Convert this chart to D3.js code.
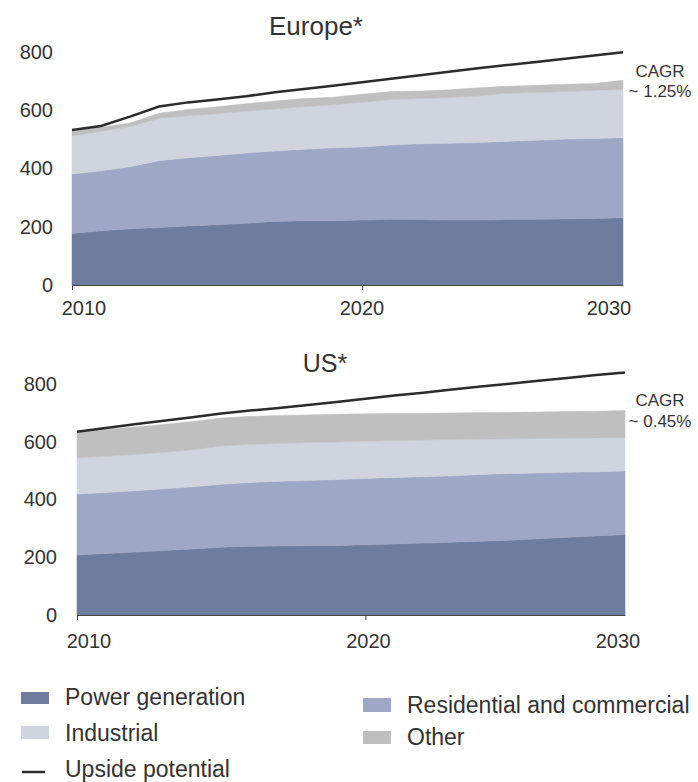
<!DOCTYPE html>
<html><head><meta charset="utf-8">
<script src="https://cdn.jsdelivr.net/npm/d3@7/dist/d3.min.js"></script>
<style>
body{margin:0;background:#fff}
svg text{font-family:"Liberation Sans",Arial,Helvetica,sans-serif;fill:#333}
</style>
</head><body>
<svg id="chart" width="698" height="782"></svg>
<script>
// ---------- data ----------
const years = [2010,2011,2012,2013,2014,2015,2016,2017,2018,2019,2020,2021,2022,2023,2024,2025,2026,2027,2028,2029];
const xTickValues = [2010, 2020, 2030];
const xTickLabels = ["2010", "2020", "2030"];
const yTicks = [0, 200, 400, 600, 800];

const seriesKeys = ["power", "residential", "industrial", "other"];
const seriesLabels = ["Power generation", "Residential and commercial", "Industrial", "Other"];
const seriesColors = ["#6e7c9d", "#9ea7c5", "#d0d4df", "#bfbfbf"];
const lineLabel = "Upside potential";

// Europe*
const europePower       = [177,186,193,197,203,207,212,218,221,221,223,226,225,223,223,225,226,227,228,231];
const europeResidential = [204,206,213,230,234,238,241,242,245,250,251,255,260,264,266,268,271,274,275,275];
const europeIndustrial  = [131,135,138,145,144,143,144,144,146,148,153,156,155,157,160,165,164,163,165,166];
const europeOther       = [18,15,12,18,22,24,25,28,28,26,28,27,26,26,28,24,25,25,24,31];
const europeUpside      = [532,546,578,613,627,637,648,662,673,684,696,708,720,732,744,755,766,777,788,799];

// US*
const usPower       = [208,213,218,223,229,235,238,239,240,241,243,246,249,252,255,259,264,269,274,279];
const usResidential = [211,211,212,214,215,218,221,224,226,228,230,230,230,230,232,231,228,225,222,220];
const usIndustrial  = [126,126,126,126,128,132,132,131,131,130,129,128,127,126,122,120,119,118,117,115];
const usOther       = [90,93,95,97,98,97,97,97,96,96,95,94,93,92,92,92,92,93,93,94];
const usUpside      = [635,648,661,673,685,698,708,717,727,738,749,760,770,781,791,801,811,821,831,840];

const panels = [
  {title:"Europe*", cagr:["CAGR","~ 1.25%"],
   series:[europePower, europeResidential, europeIndustrial, europeOther], upside: europeUpside,
   left:72, right:623, yBottom:285, yTop:52, titleX:316, titleY:35, titleSize:26,
   labelRight:53, xLabelY:315, xLabelDx:[12,0,-14], cagrX:660, cagrY:[77,97]},
  {title:"US*", cagr:["CAGR","~ 0.45%"],
   series:[usPower, usResidential, usIndustrial, usOther], upside: usUpside,
   left:77, right:625, yBottom:615, yTop:384, titleX:325, titleY:372, titleSize:25,
   labelRight:57, xLabelY:648, xLabelDx:[12,3,-7], cagrX:660, cagrY:[406,427]}
];

const svg = d3.select("#chart");

panels.forEach(p => {
  const rows = years.map((yr, i) => {
    const r = {year: yr};
    seriesKeys.forEach((k, j) => r[k] = p.series[j][i]);
    return r;
  });
  const x = d3.scaleLinear().domain([years[0], years[years.length-1]]).range([p.left, p.right]);
  const y = d3.scaleLinear().domain([0, 800]).range([p.yBottom, p.yTop]);
  const stack = d3.stack().keys(seriesKeys)(rows);
  const area = d3.area().x(d => x(d.data.year)).y0(d => y(d[0])).y1(d => y(d[1]));
  const g = svg.append("g");

  g.selectAll("path.layer").data(stack).join("path")
    .attr("class", "layer")
    .attr("d", area)
    .attr("fill", (d, i) => seriesColors[i])
    .attr("stroke", (d, i) => seriesColors[i])
    .attr("stroke-width", 0.5);

  const line = d3.line().x((d, i) => x(years[i])).y(d => y(d));
  g.append("path").attr("d", line(p.upside))
    .attr("fill", "none").attr("stroke", "#2b2b2b").attr("stroke-width", 2.5);

  // x axis (line + ticks)
  const xAxis = g.append("g").attr("transform", `translate(0,${p.yBottom})`)
    .call(d3.axisBottom(x).tickValues(xTickValues.filter(v => v <= years[years.length-1]))
      .tickSize(5).tickSizeOuter(0).tickFormat(""));
  xAxis.select(".domain").attr("stroke", "#444");
  xAxis.selectAll(".tick line").attr("stroke", "#444");

  // x tick labels
  g.selectAll("text.xl").data(xTickValues).join("text")
    .attr("class", "xl")
    .attr("x", (d, i) => (i === 2 ? p.right : x(d)) + p.xLabelDx[i])
    .attr("y", p.xLabelY)
    .attr("text-anchor", "middle")
    .attr("font-size", 20)
    .text((d, i) => xTickLabels[i]);

  // y axis labels
  const yAxis = g.append("g").attr("transform", `translate(${p.left},0)`)
    .call(d3.axisLeft(y).tickValues(yTicks).tickSize(0).tickPadding(p.left - p.labelRight));
  yAxis.select(".domain").remove();
  yAxis.selectAll("text").attr("font-size", 20).style("font-family", '"Liberation Sans",Arial,sans-serif').attr("fill", "#333");

  // title
  g.append("text").attr("x", p.titleX).attr("y", p.titleY)
    .attr("text-anchor", "middle").attr("font-size", p.titleSize).text(p.title);

  // CAGR
  p.cagr.forEach((t, i) => {
    g.append("text").attr("x", p.cagrX).attr("y", p.cagrY[i])
      .attr("text-anchor", "middle").attr("font-size", 17).text(t);
  });
});

// legend
const legendItems = [
  {type:"rect", idx:0, x:21, y:692, h:12, tx:65, ty:705},
  {type:"rect", idx:2, x:21, y:726, h:13, tx:65, ty:741},
  {type:"line", x:22, y:772, tx:65, ty:777},
  {type:"rect", idx:1, x:363, y:698, h:14, tx:407, ty:713},
  {type:"rect", idx:3, x:363, y:731, h:13, tx:407, ty:745}
];
const lg = svg.append("g");
legendItems.forEach(it => {
  if (it.type === "rect") {
    lg.append("rect").attr("x", it.x).attr("y", it.y).attr("width", 28).attr("height", it.h)
      .attr("fill", seriesColors[it.idx]);
    lg.append("text").attr("x", it.tx).attr("y", it.ty).attr("font-size", 23).text(seriesLabels[it.idx]);
  } else {
    lg.append("line").attr("x1", it.x).attr("x2", it.x + 23).attr("y1", it.y).attr("y2", it.y)
      .attr("stroke", "#2b2b2b").attr("stroke-width", 2.5);
    lg.append("text").attr("x", it.tx).attr("y", it.ty).attr("font-size", 23).text(lineLabel);
  }
});
</script>
</body></html>
